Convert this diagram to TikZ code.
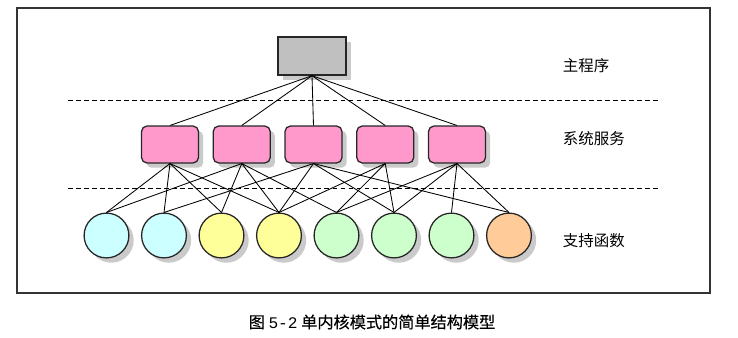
\documentclass[tikz,border=0pt]{standalone}
\usepackage{fontspec}
\newfontfamily\cjk{Noto Sans CJK SC}
\newfontfamily\cjkcap[FakeBold=0.4]{Noto Sans CJK SC}
\newfontfamily\monof{Liberation Mono}
\usepackage{tikz}
\usetikzlibrary{shapes,arrows,positioning,shadows}

\definecolor{mainfill}{HTML}{C0C0C0}
\definecolor{svcfill}{HTML}{FF99CC}
\definecolor{fcyan}{HTML}{CCFFFF}
\definecolor{fyellow}{HTML}{FFFF99}
\definecolor{fgreen}{HTML}{CCFFCC}
\definecolor{forange}{HTML}{FFCC99}

\tikzset{
  boxshadow/.style={drop shadow={shadow xshift=0.12cm,shadow yshift=-0.12cm,fill=gray!70,opacity=0.6}},
  mainbox/.style={draw=black!85,line width=1pt,fill=mainfill,minimum width=1.7cm,minimum height=0.95cm,boxshadow},
  svcbox/.style={draw=black!85,line width=0.9pt,fill=svcfill,rounded corners=0.13cm,minimum width=1.42cm,minimum height=0.92cm,boxshadow},
  funcnode/.style={circle,draw=black!85,line width=0.9pt,minimum size=1.12cm,inner sep=0pt,boxshadow},
  layertext/.style={font=\cjk\fontsize{11}{13}\selectfont,anchor=west},
  link/.style={line width=0.6pt},
  divider/.style={dashed,line width=0.6pt,dash pattern=on 3.5pt off 2.2pt}
}

\begin{document}
\begin{tikzpicture}[x=0.025cm,y=-0.025cm]
  \useasboundingbox (0,0) rectangle (738,337);
  \draw[line width=1.2pt,black!80] (17,8) rectangle (710,293);

  % layers
  \draw[divider] (68,100) -- (660,100);
  \draw[divider] (68,188) -- (660,188);

  \node[mainbox] (main) at (312,56) {};
  \foreach \i in {1,...,5} {
    \node[svcbox] (s\i) at ({170+71.75*(\i-1)},144.5) {};
  }
  \foreach \i/\c in {1/fcyan,2/fcyan,3/fyellow,4/fyellow,5/fgreen,6/fgreen,7/fgreen,8/forange} {
    \node[funcnode,fill=\c] (f\i) at ({106.5+57.5*(\i-1)},235.5) {};
  }

  % calls
  \foreach \i in {1,...,5} {
    \draw[link] (main.south) -- (s\i.north);
  }
  \foreach \s/\f in {1/1,1/2,1/3,1/4,2/1,2/3,2/4,2/5,3/2,3/4,3/6,3/8,4/4,4/5,4/6,5/5,5/6,5/7,5/8} {
    \draw[link] (s\s.south) -- (f\f.north);
  }

  \node[layertext] (lmain) at (558,66) {主程序};
  \node[layertext] (lsvc) at (558,139) {系统服务};
  \node[layertext] (lfunc) at (558,241) {支持函数};

  \node[font=\cjkcap\fontsize{11.5}{13}\selectfont] (caption) at (372,322) {图 {\monof 5-2} 单内核模式的简单结构模型};
\end{tikzpicture}
\end{document}
